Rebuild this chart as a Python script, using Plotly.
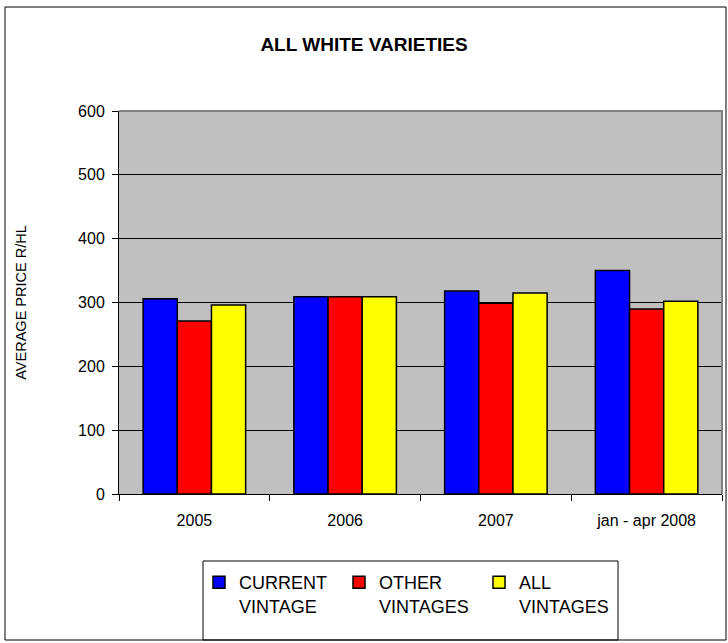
import plotly.graph_objects as go

categories = ["2005", "2006", "2007", "jan - apr 2008"]
current_vintage = [306, 309, 318, 350]
other_vintages = [271, 309, 299, 290]
all_vintages = [296, 309, 315, 302]

series = [
    ("CURRENT<br>VINTAGE", current_vintage, "#0000FF"),
    ("OTHER<br>VINTAGES", other_vintages, "#FF0000"),
    ("ALL<br>VINTAGES", all_vintages, "#FFFF00"),
]

fig = go.Figure()
for name, vals, col in series:
    fig.add_trace(go.Bar(
        x=categories, y=vals, name=name,
        marker=dict(color=col, line=dict(color="black", width=1.5)),
    ))

fig.update_layout(
    width=728, height=643,
    margin=dict(l=119, r=6, t=111, b=149, autoexpand=False),
    paper_bgcolor="white",
    plot_bgcolor="#C0C0C0",
    font=dict(family="Liberation Sans, Arial, sans-serif", color="black"),
    barmode="group", bargap=0.32, bargroupgap=0,
    title=dict(text="<b>ALL WHITE VARIETIES</b>", x=0.5, xanchor="center",
               y=1 - 44 / 643, yanchor="middle", font=dict(size=19)),
    showlegend=True,
    legend=dict(
        orientation="h", x=(199 - 119) / 603, xanchor="left",
        y=(494 - 564) / 383, yanchor="top",
        entrywidth=95, entrywidthmode="pixels", itemwidth=30,
        valign="top", bgcolor="rgba(0,0,0,0)", borderwidth=0,
        font=dict(size=18), traceorder="normal",
    ),
)

fig.update_yaxes(
    range=[0, 600], dtick=100, showgrid=True, gridcolor="black", gridwidth=1,
    showline=True, linecolor="black", linewidth=1,
    ticks="outside", ticklen=6, tickcolor="black", tickfont=dict(size=16),
    ticklabelstandoff=4,
    title=dict(text="AVERAGE PRICE R/HL", font=dict(size=14.5), standoff=48),
    zeroline=False,
)
fig.update_xaxes(
    showline=True, linecolor="black", linewidth=1,
    ticks="outside", ticklen=6, tickcolor="black", tickson="boundaries",
    tickfont=dict(size=16), ticklabelstandoff=12,
)

# outer chart border
fig.add_shape(type="rect", xref="paper", yref="paper",
              x0=(5 - 119) / 603, x1=(726 - 119) / 603,
              y0=(494 - 640) / 383, y1=(494 - 7) / 383,
              line=dict(color="black", width=1), layer="below")
# plot area outline (top and right)
fig.add_shape(type="path", xref="paper", yref="paper",
              path="M 0 1 L 1 1 L 1 0",
              line=dict(color="#808080", width=2))
# legend box
fig.add_shape(type="rect", xref="paper", yref="paper",
              x0=(203 - 119) / 603, x1=(618 - 119) / 603,
              y0=(494 - 640) / 383, y1=(494 - 561) / 383,
              line=dict(color="black", width=1))

fig.write_html("out.html", config={"displayModeBar": False},
               post_script="document.body.style.margin='0';")
